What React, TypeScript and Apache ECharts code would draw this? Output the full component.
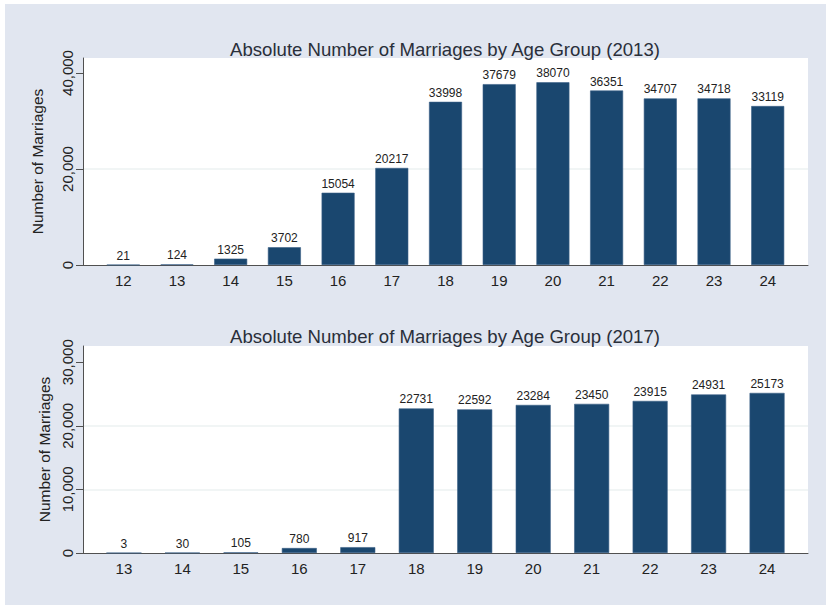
import React, { useEffect, useRef } from "react";
import * as echarts from "echarts";

const ages2013 = [12, 13, 14, 15, 16, 17, 18, 19, 20, 21, 22, 23, 24];
const counts2013 = [21, 124, 1325, 3702, 15054, 20217, 33998, 37679, 38070, 36351, 34707, 34718, 33119];
const ages2017 = [13, 14, 15, 16, 17, 18, 19, 20, 21, 22, 23, 24];
const counts2017 = [3, 30, 105, 780, 917, 22731, 22592, 23284, 23450, 23915, 24931, 25173];
const yTicks2013 = [0, 20000, 40000];
const yTicks2017 = [0, 10000, 20000, 30000];
const title2013 = "Absolute Number of Marriages by Age Group (2013)";
const title2017 = "Absolute Number of Marriages by Age Group (2017)";
const yName = "Number of Marriages";

const FONT = "Liberation Sans, Arial, sans-serif";
const BAR = "#1a476f";
const TEXT = "#222222";
const AXIS = "#505050";

export default function App() {
  const ref = useRef<HTMLDivElement>(null);
  useEffect(() => {
    if (!ref.current) return;
    const chart = echarts.init(ref.current, null, { renderer: "svg" });
    const fmt = (v: number) => v.toLocaleString("en-US");
    const xAxis = (idx: number, ages: number[], min: number, max: number) => ({
      type: "value",
      gridIndex: idx,
      min,
      max,
      axisLine: { show: true, lineStyle: { color: AXIS, width: 1 } },
      axisTick: { show: false },
      splitLine: { show: false },
      axisLabel: {
        customValues: ages,
        color: TEXT,
        fontSize: 15,
        fontFamily: FONT,
        margin: 8,
      },
    });
    const yAxis = (idx: number, ticks: number[], max: number, interval: number, nameGap: number) => ({
      type: "value",
      gridIndex: idx,
      min: 0,
      max,
      interval,
      name: yName,
      nameLocation: "middle",
      nameGap,
      nameTextStyle: { color: TEXT, fontSize: 15.5, fontFamily: FONT },
      axisLine: { show: true, lineStyle: { color: AXIS, width: 1 } },
      axisTick: { show: true, length: 7, customValues: ticks, lineStyle: { color: AXIS } },
      splitLine: { show: true, showMinLine: false, showMaxLine: false, lineStyle: { color: "#EDF2F2", width: 1.5 } },
      axisLabel: {
        customValues: ticks,
        rotate: 90,
        color: TEXT,
        fontSize: 15,
        fontFamily: FONT,
        margin: 8,
        formatter: (v: number) => fmt(v),
      },
    });
    const series = (idx: number, ages: number[], counts: number[], bw: number) => ({
      type: "bar",
      xAxisIndex: idx,
      yAxisIndex: idx,
      barWidth: bw,
      data: ages.map((a, i) => [a, counts[i]]),
      itemStyle: { color: BAR, borderColor: "#3b6086", borderWidth: 0.6 },
      label: {
        show: true,
        position: "top",
        distance: 3,
        color: TEXT,
        fontSize: 12,
        fontFamily: FONT,
        formatter: (p: any) => String(p.value[1]),
      },
    });
    chart.setOption({
      animation: false,
      backgroundColor: "#ffffff",
      graphic: [
        { type: "rect", left: 5, top: 4, shape: { width: 821, height: 601 }, style: { fill: "#E1E6F0" }, z: -10 },
      ],
      title: [
        { text: title2013, left: 440, top: 35, textAlign: "center", textStyle: { color: "#2a2f3a", fontSize: 18.6, fontWeight: "normal", fontFamily: FONT } },
        { text: title2017, left: 440, top: 322, textAlign: "center", textStyle: { color: "#2a2f3a", fontSize: 18.6, fontWeight: "normal", fontFamily: FONT } },
      ],
      grid: [
        { left: 83, top: 58, width: 725, height: 207, show: true, backgroundColor: "#ffffff", borderWidth: 0 },
        { left: 83, top: 346, width: 725, height: 207, show: true, backgroundColor: "#ffffff", borderWidth: 0 },
      ],
      xAxis: [xAxis(0, ages2013, 11.25, 24.75), xAxis(1, ages2017, 12.3, 24.7)],
      yAxis: [yAxis(0, yTicks2013, 43125, 20000, 38), yAxis(1, yTicks2017, 32550, 10000, 30)],
      series: [series(0, ages2013, counts2013, 33), series(1, ages2017, counts2017, 35)],
    });
    return () => chart.dispose();
  }, []);
  return (
    <div style={{ position: "fixed", left: 0, top: 0, width: 826, height: 605 }}>
      <div ref={ref} style={{ width: 826, height: 605 }} />
    </div>
  );
}
